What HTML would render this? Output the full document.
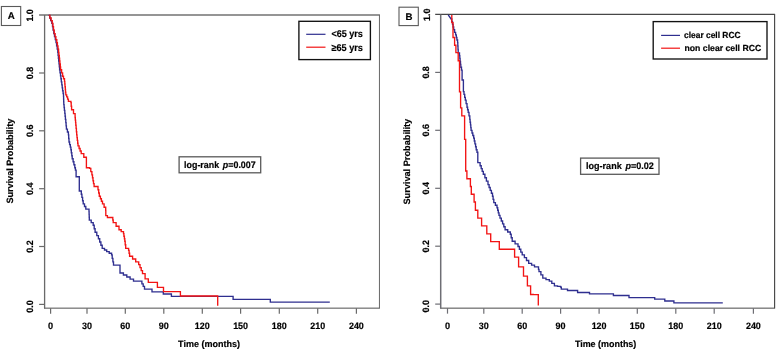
<!DOCTYPE html>
<html><head><meta charset="utf-8"><title>Survival curves</title>
<style>
html,body{margin:0;padding:0;background:#fff;}
svg{display:block}
text{font-family:"Liberation Sans","DejaVu Sans",sans-serif;font-weight:bold;fill:#000;stroke:#000;stroke-width:0.18px;text-rendering:geometricPrecision}
.t{font-size:9.3px}
.a{font-size:9.2px}
.g{font-size:10.2px}
.p{font-size:9.4px}
.L{font-size:9.7px}
</style></head><body>
<svg width="778" height="349" viewBox="0 0 778 349">
<rect width="778" height="349" fill="#fff"/>
<path d="M39.1 15.0 H379.95" fill="none" stroke="#727272" stroke-width="1.5"/>
<path d="M379.45 15.0 V308.59999999999997" fill="none" stroke="#666" stroke-width="1.0"/>
<path d="M44.0 308.15 H379.45" fill="none" stroke="#505050" stroke-width="1.0"/>
<path d="M44.6 15.0 V308.59999999999997" fill="none" stroke="#6a6a6a" stroke-width="1.3"/>
<text transform="translate(33.4 15.4) rotate(-90)" text-anchor="middle" class="t" textLength="12.4" lengthAdjust="spacingAndGlyphs">1.0</text>
<line x1="39.1" y1="73.0" x2="44.6" y2="73.0" stroke="#6a6a6a" stroke-width="1.2"/>
<text transform="translate(32.7 73.0) rotate(-90)" text-anchor="middle" class="t" textLength="12.4" lengthAdjust="spacingAndGlyphs">0.8</text>
<line x1="39.1" y1="130.8" x2="44.6" y2="130.8" stroke="#6a6a6a" stroke-width="1.2"/>
<text transform="translate(32.7 130.8) rotate(-90)" text-anchor="middle" class="t" textLength="12.4" lengthAdjust="spacingAndGlyphs">0.6</text>
<line x1="39.1" y1="188.7" x2="44.6" y2="188.7" stroke="#6a6a6a" stroke-width="1.2"/>
<text transform="translate(32.7 188.7) rotate(-90)" text-anchor="middle" class="t" textLength="12.4" lengthAdjust="spacingAndGlyphs">0.4</text>
<line x1="39.1" y1="246.5" x2="44.6" y2="246.5" stroke="#6a6a6a" stroke-width="1.2"/>
<text transform="translate(32.7 246.5) rotate(-90)" text-anchor="middle" class="t" textLength="12.4" lengthAdjust="spacingAndGlyphs">0.2</text>
<line x1="39.1" y1="304.4" x2="44.6" y2="304.4" stroke="#6a6a6a" stroke-width="1.2"/>
<text transform="translate(32.7 306.5) rotate(-90)" text-anchor="middle" class="t" textLength="12.4" lengthAdjust="spacingAndGlyphs">0.0</text>
<line x1="50.6" y1="308.15" x2="50.6" y2="313.65" stroke="#6a6a6a" stroke-width="1.2"/>
<text x="50.6" y="329.3" text-anchor="middle" class="t" textLength="5.1" lengthAdjust="spacingAndGlyphs">0</text>
<line x1="87.0" y1="308.15" x2="87.0" y2="313.65" stroke="#6a6a6a" stroke-width="1.2"/>
<text x="87.0" y="329.3" text-anchor="middle" class="t" textLength="10.0" lengthAdjust="spacingAndGlyphs">30</text>
<line x1="125.3" y1="308.15" x2="125.3" y2="313.65" stroke="#6a6a6a" stroke-width="1.2"/>
<text x="125.3" y="329.3" text-anchor="middle" class="t" textLength="10.0" lengthAdjust="spacingAndGlyphs">60</text>
<line x1="163.8" y1="308.15" x2="163.8" y2="313.65" stroke="#6a6a6a" stroke-width="1.2"/>
<text x="163.8" y="329.3" text-anchor="middle" class="t" textLength="10.0" lengthAdjust="spacingAndGlyphs">90</text>
<line x1="202.3" y1="308.15" x2="202.3" y2="313.65" stroke="#6a6a6a" stroke-width="1.2"/>
<text x="202.3" y="329.3" text-anchor="middle" class="t" textLength="14.9" lengthAdjust="spacingAndGlyphs">120</text>
<line x1="240.6" y1="308.15" x2="240.6" y2="313.65" stroke="#6a6a6a" stroke-width="1.2"/>
<text x="240.6" y="329.3" text-anchor="middle" class="t" textLength="14.9" lengthAdjust="spacingAndGlyphs">150</text>
<line x1="279.3" y1="308.15" x2="279.3" y2="313.65" stroke="#6a6a6a" stroke-width="1.2"/>
<text x="279.3" y="329.3" text-anchor="middle" class="t" textLength="14.9" lengthAdjust="spacingAndGlyphs">180</text>
<line x1="317.7" y1="308.15" x2="317.7" y2="313.65" stroke="#6a6a6a" stroke-width="1.2"/>
<text x="317.7" y="329.3" text-anchor="middle" class="t" textLength="14.9" lengthAdjust="spacingAndGlyphs">210</text>
<line x1="356.4" y1="308.15" x2="356.4" y2="313.65" stroke="#6a6a6a" stroke-width="1.2"/>
<text x="356.4" y="329.3" text-anchor="middle" class="t" textLength="14.9" lengthAdjust="spacingAndGlyphs">240</text>
<text x="209" y="346.8" text-anchor="middle" class="a" textLength="61.9" lengthAdjust="spacingAndGlyphs">Time (months)</text>
<text transform="translate(13.3 161.2) rotate(-90)" text-anchor="middle" class="a" textLength="84.8" lengthAdjust="spacingAndGlyphs">Survival Probability</text>
<path d="M48.6 15.0 L49.7 15.0 L49.7 17.6 L50.7 17.6 L50.7 20.3 L51.8 20.3 L51.8 22.9 L52.5 22.9 L52.5 26.3 L53.1 26.3 L53.1 29.8 L53.8 29.8 L53.8 33.2 L54.5 33.2 L54.5 36.2 L55.3 36.2 L55.3 39.2 L56.0 39.2 L56.0 42.2 L56.6 42.2 L56.6 45.5 L57.2 45.5 L57.2 48.7 L57.8 48.7 L57.8 52.0 L58.1 52.0 L58.1 54.9 L58.4 54.9 L58.4 57.8 L58.7 57.8 L58.7 60.6 L59.0 60.6 L59.0 63.5 L59.3 63.5 L59.3 66.4 L59.6 66.4 L59.6 69.3 L60.0 69.3 L60.0 72.3 L60.5 72.3 L60.5 75.3 L60.9 75.3 L60.9 78.3 L61.3 78.3 L61.3 81.4 L61.8 81.4 L61.8 84.4 L62.2 84.4 L62.2 87.4 L62.6 87.4 L62.6 90.3 L63.1 90.3 L63.1 93.1 L63.5 93.1 L63.5 96.0 L63.6 96.0 L63.6 98.7 L63.7 98.7 L63.7 101.5 L63.8 101.5 L63.8 104.2 L64.1 104.2 L64.1 107.1 L64.4 107.1 L64.4 110.0 L64.8 110.0 L64.8 112.9 L65.1 112.9 L65.1 115.8 L65.4 115.8 L65.4 119.0 L65.8 119.0 L65.8 122.2 L66.1 122.2 L66.1 125.5 L66.4 125.5 L66.4 128.7 L67.4 128.7 L67.4 131.6 L68.4 131.6 L68.4 134.5 L68.7 134.5 L68.7 138.1 L69.0 138.1 L69.0 141.6 L69.6 141.6 L69.6 144.2 L70.3 144.2 L70.3 146.7 L70.9 146.7 L70.9 149.3 L71.3 149.3 L71.3 152.3 L71.8 152.3 L71.8 155.4 L72.2 155.4 L72.2 158.4 L73.1 158.4 L73.1 161.4 L73.9 161.4 L73.9 164.4 L74.8 164.4 L74.8 167.4 L75.4 167.4 L75.4 169.7 L76.1 169.7 L76.1 172.0 L76.1 176.4 L79.3 176.4 L79.3 190.6 L81.3 190.6 L81.3 193.8 L81.9 193.8 L81.9 197.0 L82.6 197.0 L82.6 200.3 L83.2 200.3 L83.2 203.5 L84.5 203.5 L84.5 206.1 L85.8 206.1 L85.8 208.7 L89.0 208.7 L89.0 211.2 L89.1 211.2 L89.1 214.0 L89.2 214.0 L89.2 216.9 L89.3 216.9 L89.3 219.7 L91.2 219.7 L91.2 222.2 L93.2 222.2 L93.2 224.8 L94.2 224.8 L94.2 228.4 L95.1 228.4 L95.1 231.9 L96.8 231.9 L96.8 235.2 L98.4 235.2 L98.4 238.4 L99.7 238.4 L99.7 241.6 L100.9 241.6 L100.9 244.8 L102.2 244.8 L102.2 248.0 L104.5 248.0 L104.5 249.6 L106.7 249.6 L106.7 251.2 L109.2 251.2 L109.2 252.8 L111.6 252.8 L111.6 254.5 L112.2 254.5 L112.2 257.9 L112.9 257.9 L112.9 261.4 L113.5 261.4 L113.5 264.8 L120.0 264.8 L120.0 272.6 L123.4 272.6 L123.4 274.6 L126.8 274.6 L126.8 276.6 L130.1 276.6 L130.1 278.7 L133.5 278.7 L133.5 280.7 L140.6 280.7 L141.9 280.7 L141.9 283.4 L143.2 283.4 L143.2 286.0 L144.5 286.0 L144.5 288.7 L152.0 288.7 L152.0 291.5 L163.3 291.5 L163.3 293.6 L171.4 293.6 L171.4 295.9 L233.1 295.9 L233.1 299.0 L270.3 299.0 L270.3 301.8 L329.8 301.8" transform="translate(0 0.4)" fill="none" stroke="#2e2e8f" stroke-width="1.35" stroke-linejoin="miter"/>
<path d="M48.8 15.0 L49.9 15.0 L49.9 17.6 L51.1 17.6 L51.1 20.3 L52.2 20.3 L52.2 22.9 L52.9 22.9 L52.9 26.3 L53.5 26.3 L53.5 29.8 L54.2 29.8 L54.2 33.2 L55.1 33.2 L55.1 36.2 L55.9 36.2 L55.9 39.2 L56.8 39.2 L56.8 42.2 L57.4 42.2 L57.4 45.5 L58.0 45.5 L58.0 48.7 L58.6 48.7 L58.6 52.0 L58.9 52.0 L58.9 54.9 L59.3 54.9 L59.3 57.8 L59.6 57.8 L59.6 60.6 L59.9 60.6 L59.9 63.5 L60.3 63.5 L60.3 66.4 L60.6 66.4 L60.6 69.3 L61.6 69.3 L61.6 72.5 L62.6 72.5 L62.6 75.8 L63.5 75.8 L63.5 78.3 L64.5 78.3 L64.5 80.9 L64.8 80.9 L64.8 83.6 L65.0 83.6 L65.0 86.3 L65.3 86.3 L65.3 89.1 L65.5 89.1 L65.5 91.8 L65.8 91.8 L65.8 94.5 L66.7 94.5 L66.7 96.4 L67.6 96.4 L67.6 98.7 L68.4 98.7 L68.4 101.0 L70.9 101.0 L70.9 102.2 L71.2 102.2 L71.2 105.8 L71.6 105.8 L71.6 109.3 L73.5 109.3 L73.5 113.2 L75.1 113.2 L75.1 117.1 L75.3 117.1 L75.3 119.7 L75.6 119.7 L75.6 122.2 L75.8 122.2 L75.8 124.8 L76.1 124.8 L76.1 128.0 L76.4 128.0 L76.4 131.3 L76.7 131.3 L76.7 134.5 L77.0 134.5 L77.0 137.2 L77.3 137.2 L77.3 140.0 L77.7 140.0 L77.7 142.8 L78.0 142.8 L78.0 145.5 L79.1 145.5 L79.1 148.1 L80.1 148.1 L80.1 150.6 L81.2 150.6 L81.2 153.2 L83.8 153.2 L83.8 156.8 L86.4 156.8 L86.4 160.3 L86.4 167.4 L89.6 167.4 L89.6 168.0 L90.8 168.0 L90.8 171.2 L91.9 171.2 L91.9 174.5 L92.5 174.5 L92.5 177.4 L93.0 177.4 L93.0 180.3 L93.5 180.3 L93.5 183.2 L94.1 183.2 L94.1 186.1 L98.0 186.1 L98.0 189.3 L98.7 189.3 L98.7 192.6 L99.3 192.6 L99.3 195.8 L100.4 195.8 L100.4 198.4 L101.4 198.4 L101.4 200.9 L102.5 200.9 L102.5 203.5 L104.1 203.5 L104.1 206.8 L105.7 206.8 L105.7 210.0 L105.8 210.0 L105.8 212.6 L105.8 212.6 L105.8 215.2 L107.4 215.2 L107.4 217.1 L112.3 217.1 L112.8 217.1 L112.8 219.6 L113.2 219.6 L113.2 222.2 L116.1 222.2 L116.1 225.8 L119.0 225.8 L119.0 229.3 L121.2 229.3 L121.2 231.2 L123.5 231.2 L123.5 233.2 L123.9 233.2 L123.9 235.8 L124.4 235.8 L124.4 238.3 L124.8 238.3 L124.8 240.9 L125.2 240.9 L125.2 244.4 L125.7 244.4 L125.7 248.0 L128.6 248.0 L128.6 250.0 L129.1 250.0 L129.1 252.9 L129.6 252.9 L129.6 255.8 L132.6 255.8 L132.6 258.6 L135.7 258.6 L135.7 261.4 L138.7 261.4 L138.7 264.2 L140.0 264.2 L140.0 267.2 L141.2 267.2 L141.2 270.2 L142.5 270.2 L142.5 273.2 L145.1 273.2 L145.1 278.4 L148.3 278.4 L148.3 282.0 L157.4 282.0 L157.4 287.0 L163.5 287.0 L163.5 291.2 L180.4 291.2 L180.4 295.6 L217.7 295.6 L217.7 305.3" transform="translate(0 0.4)" fill="none" stroke="#f21414" stroke-width="1.35" stroke-linejoin="miter"/>
<rect x="1.4" y="6.5" width="19.3" height="19.0" fill="#fff" stroke="#5a5a5a" stroke-width="1.1"/>
<text x="11.3" y="19.4" text-anchor="middle" class="L">A</text>
<rect x="298.9" y="21.3" width="71.5" height="38.3" fill="#fff" stroke="#111" stroke-width="1.35"/>
<line x1="306.2" y1="34.3" x2="325.5" y2="34.3" stroke="#2e2e8f" stroke-width="1.2"/>
<line x1="306.2" y1="47.2" x2="325.5" y2="47.2" stroke="#f21414" stroke-width="1.2"/>
<text x="331.4" y="37.3" class="g" style="font-size:9.8px" textLength="31.5" lengthAdjust="spacingAndGlyphs">&lt;65 yrs</text>
<text x="331.4" y="51.2" class="g" style="font-size:9.8px" textLength="31.5" lengthAdjust="spacingAndGlyphs">≥65 yrs</text>
<rect x="179.1" y="156.8" width="81.6" height="16.0" fill="#fff" stroke="#5a5a5a" stroke-width="1.3"/>
<text x="184.1" y="167.9" class="p" textLength="71.6" lengthAdjust="spacingAndGlyphs">log-rank <tspan font-style="italic" dx="1.3">p</tspan>=0.007</text>
<path d="M435.2 14.4 H775.1" fill="none" stroke="#474747" stroke-width="1.3"/>
<path d="M774.6 14.4 V308.59999999999997" fill="none" stroke="#474747" stroke-width="1.15"/>
<path d="M440.09999999999997 308.15 H774.6" fill="none" stroke="#4a4a4a" stroke-width="1.0"/>
<path d="M440.7 14.4 V308.59999999999997" fill="none" stroke="#6e6e74" stroke-width="1.5"/>
<text transform="translate(430.0 14.8) rotate(-90)" text-anchor="middle" class="t" textLength="12.4" lengthAdjust="spacingAndGlyphs">1.0</text>
<line x1="435.2" y1="72.4" x2="440.7" y2="72.4" stroke="#6e6e74" stroke-width="1.2"/>
<text transform="translate(429.3 72.4) rotate(-90)" text-anchor="middle" class="t" textLength="12.4" lengthAdjust="spacingAndGlyphs">0.8</text>
<line x1="435.2" y1="130.3" x2="440.7" y2="130.3" stroke="#6e6e74" stroke-width="1.2"/>
<text transform="translate(429.3 130.3) rotate(-90)" text-anchor="middle" class="t" textLength="12.4" lengthAdjust="spacingAndGlyphs">0.6</text>
<line x1="435.2" y1="188.3" x2="440.7" y2="188.3" stroke="#6e6e74" stroke-width="1.2"/>
<text transform="translate(429.3 188.3) rotate(-90)" text-anchor="middle" class="t" textLength="12.4" lengthAdjust="spacingAndGlyphs">0.4</text>
<line x1="435.2" y1="246.2" x2="440.7" y2="246.2" stroke="#6e6e74" stroke-width="1.2"/>
<text transform="translate(429.3 246.2) rotate(-90)" text-anchor="middle" class="t" textLength="12.4" lengthAdjust="spacingAndGlyphs">0.2</text>
<line x1="435.2" y1="304.1" x2="440.7" y2="304.1" stroke="#6e6e74" stroke-width="1.2"/>
<text transform="translate(429.3 306.2) rotate(-90)" text-anchor="middle" class="t" textLength="12.4" lengthAdjust="spacingAndGlyphs">0.0</text>
<line x1="447.5" y1="308.15" x2="447.5" y2="313.65" stroke="#6e6e74" stroke-width="1.2"/>
<text x="447.5" y="329.3" text-anchor="middle" class="t" textLength="5.1" lengthAdjust="spacingAndGlyphs">0</text>
<line x1="483.8" y1="308.15" x2="483.8" y2="313.65" stroke="#6e6e74" stroke-width="1.2"/>
<text x="483.8" y="329.3" text-anchor="middle" class="t" textLength="10.0" lengthAdjust="spacingAndGlyphs">30</text>
<line x1="522.2" y1="308.15" x2="522.2" y2="313.65" stroke="#6e6e74" stroke-width="1.2"/>
<text x="522.2" y="329.3" text-anchor="middle" class="t" textLength="10.0" lengthAdjust="spacingAndGlyphs">60</text>
<line x1="560.6" y1="308.15" x2="560.6" y2="313.65" stroke="#6e6e74" stroke-width="1.2"/>
<text x="560.6" y="329.3" text-anchor="middle" class="t" textLength="10.0" lengthAdjust="spacingAndGlyphs">90</text>
<line x1="599.1" y1="308.15" x2="599.1" y2="313.65" stroke="#6e6e74" stroke-width="1.2"/>
<text x="599.1" y="329.3" text-anchor="middle" class="t" textLength="14.9" lengthAdjust="spacingAndGlyphs">120</text>
<line x1="637.3" y1="308.15" x2="637.3" y2="313.65" stroke="#6e6e74" stroke-width="1.2"/>
<text x="637.3" y="329.3" text-anchor="middle" class="t" textLength="14.9" lengthAdjust="spacingAndGlyphs">150</text>
<line x1="675.8" y1="308.15" x2="675.8" y2="313.65" stroke="#6e6e74" stroke-width="1.2"/>
<text x="675.8" y="329.3" text-anchor="middle" class="t" textLength="14.9" lengthAdjust="spacingAndGlyphs">180</text>
<line x1="714.2" y1="308.15" x2="714.2" y2="313.65" stroke="#6e6e74" stroke-width="1.2"/>
<text x="714.2" y="329.3" text-anchor="middle" class="t" textLength="14.9" lengthAdjust="spacingAndGlyphs">210</text>
<line x1="753.4" y1="308.15" x2="753.4" y2="313.65" stroke="#6e6e74" stroke-width="1.2"/>
<text x="753.4" y="329.3" text-anchor="middle" class="t" textLength="14.9" lengthAdjust="spacingAndGlyphs">240</text>
<text x="605.6" y="346.8" text-anchor="middle" class="a" textLength="61.4" lengthAdjust="spacingAndGlyphs">Time (months)</text>
<text transform="translate(409.9 161.7) rotate(-90)" text-anchor="middle" class="a" textLength="85.8" lengthAdjust="spacingAndGlyphs">Survival Probability</text>
<path d="M448.2 14.5 L451.1 18.6 L451.8 18.6 L451.8 21.3 L452.5 21.3 L452.5 24.0 L453.1 24.0 L453.1 26.6 L453.7 26.6 L453.7 29.3 L454.6 29.3 L454.6 31.9 L455.6 31.9 L455.6 34.5 L456.3 34.5 L456.3 37.1 L456.9 37.1 L456.9 39.6 L457.6 39.6 L457.6 42.2 L457.8 42.2 L457.8 45.6 L458.0 45.6 L458.0 49.1 L458.2 49.1 L458.2 52.5 L459.5 52.5 L459.5 55.2 L459.8 55.2 L459.8 58.1 L460.1 58.1 L460.1 61.0 L460.5 61.0 L460.5 63.9 L460.8 63.9 L460.8 66.8 L461.5 66.8 L461.5 69.7 L462.1 69.7 L462.1 72.6 L462.1 79.6 L463.4 79.6 L463.4 91.2 L464.0 91.2 L464.0 94.0 L464.7 94.0 L464.7 96.9 L465.3 96.9 L465.3 99.7 L466.1 99.7 L466.1 103.2 L467.0 103.2 L467.0 106.8 L467.6 106.8 L467.6 109.3 L468.2 109.3 L468.2 111.9 L469.0 111.9 L469.0 115.5 L469.8 115.5 L469.8 119.0 L470.1 119.0 L470.1 121.8 L470.5 121.8 L470.5 124.5 L470.8 124.5 L470.8 127.2 L471.1 127.2 L471.1 130.0 L472.0 130.0 L472.0 132.6 L472.8 132.6 L472.8 135.1 L473.7 135.1 L473.7 137.7 L474.3 137.7 L474.3 140.6 L474.9 140.6 L474.9 143.5 L475.6 143.5 L475.6 146.4 L476.2 146.4 L476.2 149.3 L477.0 149.3 L477.0 151.9 L477.8 151.9 L477.8 154.5 L477.8 162.2 L480.1 162.2 L480.1 165.4 L481.2 165.4 L481.2 168.2 L482.2 168.2 L482.2 171.0 L483.3 171.0 L483.3 173.8 L484.9 173.8 L484.9 177.3 L486.4 177.3 L486.4 180.7 L488.0 180.7 L488.0 184.2 L489.1 184.2 L489.1 187.1 L490.2 187.1 L490.2 190.0 L491.4 190.0 L491.4 192.9 L492.5 192.9 L492.5 195.8 L493.1 195.8 L493.1 199.0 L493.8 199.0 L493.8 202.2 L495.4 202.2 L495.4 204.8 L497.0 204.8 L497.0 207.4 L497.7 207.4 L497.7 209.9 L498.3 209.9 L498.3 212.5 L499.0 212.5 L499.0 215.0 L500.0 215.0 L500.0 217.7 L501.3 217.7 L501.3 220.6 L502.6 220.6 L502.6 223.5 L503.8 223.5 L503.8 226.4 L505.1 226.4 L505.1 229.3 L507.7 229.3 L507.7 231.6 L510.3 231.6 L510.3 233.8 L511.2 233.8 L511.2 237.4 L512.2 237.4 L512.2 240.9 L515.1 240.9 L515.1 243.5 L518.0 243.5 L518.0 246.1 L519.4 246.1 L519.4 248.9 L520.8 248.9 L520.8 251.7 L522.2 251.7 L522.2 254.5 L524.4 254.5 L524.4 257.3 L526.5 257.3 L526.5 260.1 L528.7 260.1 L528.7 262.9 L531.6 262.9 L531.6 264.7 L534.5 264.7 L534.5 266.5 L537.9 266.5 L538.5 266.5 L538.5 268.9 L539.0 268.9 L539.0 271.3 L540.9 271.3 L540.9 274.5 L542.8 274.5 L542.8 277.7 L546.0 277.7 L546.0 279.2 L549.3 279.2 L549.3 280.7 L551.8 280.7 L551.8 283.0 L554.4 283.0 L554.4 285.4 L557.5 285.4 L557.5 286.0 L560.6 286.0 L560.6 286.7 L561.3 286.7 L561.3 288.7 L567.5 288.7 L567.5 290.1 L577.6 290.1 L577.6 292.1 L589.5 292.1 L589.5 293.4 L613.4 293.4 L613.4 295.1 L629.0 295.1 L629.0 297.2 L654.7 297.2 L654.7 298.8 L664.8 298.8 L664.8 300.6 L673.9 300.6 L673.9 302.4 L722.8 302.4" transform="translate(0 0.4)" fill="none" stroke="#2e2e8f" stroke-width="1.35" stroke-linejoin="miter"/>
<path d="M451.8 14.5 L451.8 22.2 L453.0 22.2 L453.0 37.1 L454.6 37.1 L454.6 44.8 L455.9 44.8 L455.9 52.2 L458.2 52.2 L458.2 60.3 L459.5 60.3 L459.5 91.5 L460.6 91.5 L460.6 107.4 L461.8 107.4 L461.8 115.5 L464.6 115.5 L464.6 139.0 L465.7 139.0 L465.7 170.6 L466.9 170.6 L466.9 178.4 L470.4 178.4 L470.4 186.1 L471.3 186.1 L471.3 193.8 L474.1 193.8 L474.1 201.6 L475.4 201.6 L475.4 209.9 L477.8 209.9 L477.8 217.7 L481.6 217.7 L481.6 225.5 L486.8 225.5 L486.8 233.5 L490.7 233.5 L490.7 241.2 L499.3 241.2 L499.3 248.9 L514.6 248.9 L514.6 256.7 L518.6 256.7 L518.6 266.5 L523.5 266.5 L523.5 275.8 L527.4 275.8 L527.4 285.4 L530.6 285.4 L530.6 294.1 L533.2 294.1 L533.2 294.2 L535.7 294.2 L535.7 294.2 L538.3 294.2 L538.3 294.3 L538.3 305.0" transform="translate(0 0.4)" fill="none" stroke="#f21414" stroke-width="1.35" stroke-linejoin="miter"/>
<rect x="399.0" y="7.2" width="19.30000000000001" height="18.400000000000002" fill="#fff" stroke="#5a5a5a" stroke-width="1.1"/>
<text x="408.9" y="19.8" text-anchor="middle" class="L">B</text>
<rect x="653.2" y="21.6" width="113.79999999999995" height="37.4" fill="#fff" stroke="#111" stroke-width="1.35"/>
<line x1="661.1" y1="35.4" x2="680" y2="35.4" stroke="#2e2e8f" stroke-width="1.2"/>
<line x1="661.1" y1="48.2" x2="680" y2="48.2" stroke="#f21414" stroke-width="1.2"/>
<text x="684" y="37.8" class="g" style="font-size:8.8px" textLength="56.6" lengthAdjust="spacingAndGlyphs">clear cell RCC</text>
<text x="684.5" y="50.6" class="g" style="font-size:8.8px" textLength="76.7" lengthAdjust="spacingAndGlyphs">non clear cell RCC</text>
<rect x="580.6" y="158.1" width="78.39999999999998" height="16.200000000000017" fill="#fff" stroke="#5a5a5a" stroke-width="1.3"/>
<text x="586" y="169.2" class="p" textLength="67.9" lengthAdjust="spacingAndGlyphs">log-rank <tspan font-style="italic" dx="1.3">p</tspan>=0.02</text>
</svg>
</body></html>
